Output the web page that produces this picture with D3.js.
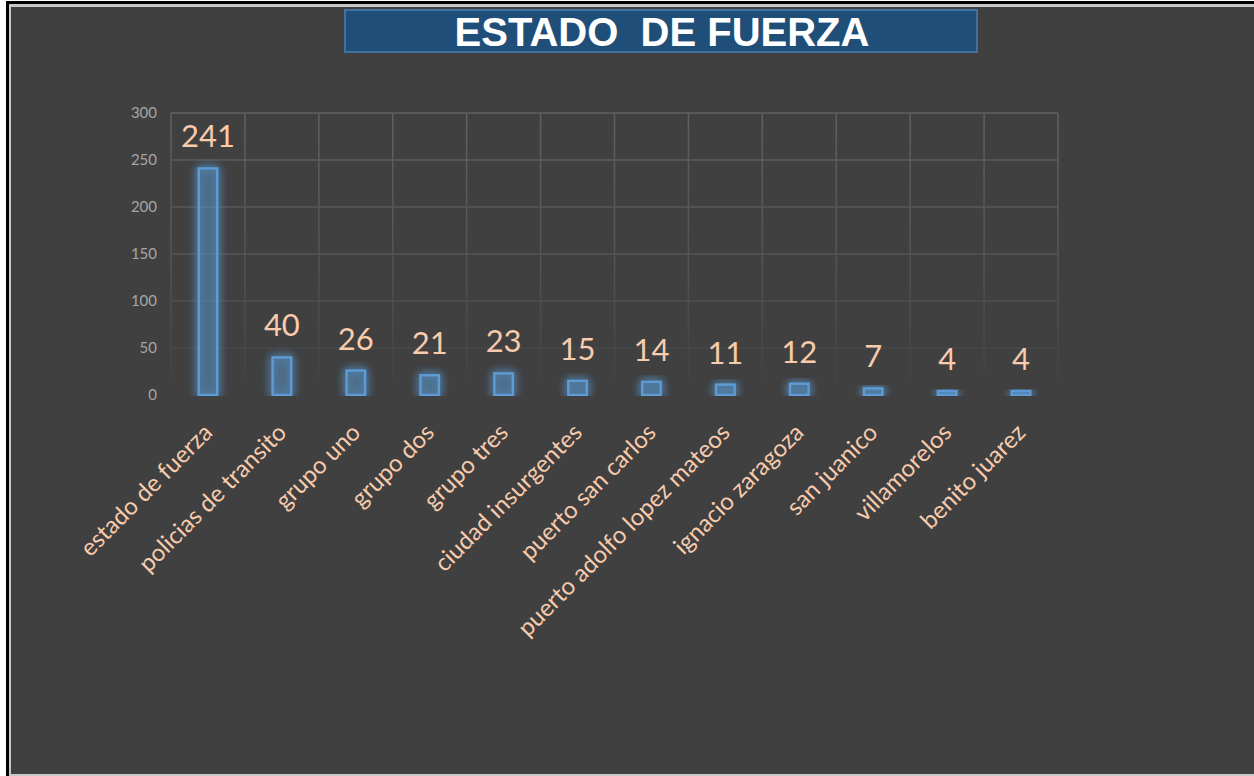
<!DOCTYPE html>
<html>
<head>
<meta charset="utf-8">
<script src="https://cdn.jsdelivr.net/npm/d3@7"></script>
<style>
  body { margin: 0; background: #fff; }
  svg { display: block; }
</style>
</head>
<body>
<svg id="chart" width="1254" height="776"></svg>
<script>
var categories = ["estado de fuerza", "policias de transito", "grupo uno", "grupo dos",
  "grupo tres", "ciudad insurgentes", "puerto san carlos", "puerto adolfo lopez mateos",
  "ignacio zaragoza", "san juanico", "villamorelos", "benito juarez"];
var values = [241, 40, 26, 21, 23, 15, 14, 11, 12, 7, 4, 4];
var yTicks = [0, 50, 100, 150, 200, 250, 300];
var title = "ESTADO  DE FUERZA";

var svg = d3.select("svg#chart"),
    width = +svg.attr("width"),
    height = +svg.attr("height");

var peach = "#F8CBAD",
    barBlue = "#5B9BD5";

var x = d3.scaleBand().domain(categories).range([171, 1058]);
var y = d3.scaleLinear().domain([0, 300]).range([395, 113]);

var defs = svg.append("defs");

var glow = defs.append("filter").attr("id", "glow")
    .attr("x", "-150%").attr("y", "-50%").attr("width", "400%").attr("height", "200%");
glow.append("feGaussianBlur").attr("in", "SourceAlpha").attr("stdDeviation", 5).attr("result", "blur");
glow.append("feFlood").attr("flood-color", barBlue).attr("flood-opacity", 0.9);
glow.append("feComposite").attr("in2", "blur").attr("operator", "in").attr("result", "halo");
var merge = glow.append("feMerge");
merge.append("feMergeNode").attr("in", "halo");
merge.append("feMergeNode").attr("in", "halo");
merge.append("feMergeNode").attr("in", "SourceGraphic");

// grid fades out toward the baseline
var fade = defs.append("linearGradient").attr("id", "gridFade")
    .attr("gradientUnits", "userSpaceOnUse")
    .attr("x1", 0).attr("y1", y(300)).attr("x2", 0).attr("y2", y(0));
fade.append("stop").attr("offset", "0%").attr("stop-color", "#606060");
fade.append("stop").attr("offset", "55%").attr("stop-color", "#535353");
fade.append("stop").attr("offset", "100%").attr("stop-color", "#404040");

defs.append("clipPath").attr("id", "plotClip")
  .append("rect").attr("x", 0).attr("y", 0).attr("width", width).attr("height", y(0) + 1);

// frame
svg.append("rect").attr("x", 0).attr("y", 0).attr("width", width).attr("height", height).attr("fill", "#fff");
svg.append("rect").attr("x", 6).attr("y", 1).attr("width", width - 6).attr("height", height - 1).attr("fill", "#000");
svg.append("rect").attr("x", 9).attr("y", 4).attr("width", width - 9).attr("height", height - 4).attr("fill", "#c8c8c8");
svg.append("rect").attr("x", 11).attr("y", 7).attr("width", width - 11).attr("height", height - 9).attr("fill", "#404040");

// title
svg.append("rect")
    .attr("x", 345).attr("y", 10).attr("width", 632).attr("height", 42)
    .attr("fill", "#1F4E79").attr("stroke", "#41719C").attr("stroke-width", 2);
svg.append("text")
    .attr("x", 662).attr("y", 46)
    .attr("text-anchor", "middle")
    .style("white-space", "pre")
    .attr("font-family", "'Liberation Sans', Arial, sans-serif")
    .attr("font-weight", "bold")
    .attr("font-size", 40)
    .attr("fill", "#fff")
    .text(title);

// gridlines
var grid = svg.append("g").attr("stroke", "url(#gridFade)").attr("stroke-width", 1.5);
grid.selectAll(".h").data(yTicks).enter().append("line")
    .attr("x1", x.range()[0]).attr("x2", x.range()[1])
    .attr("y1", function(d) { return y(d); })
    .attr("y2", function(d) { return y(d) + 0.01; });
var edges = categories.map(function(c) { return x(c); }).concat([x.range()[1]]);
grid.selectAll(".v").data(edges).enter().append("line")
    .attr("x1", function(d) { return d; })
    .attr("x2", function(d) { return d + 0.01; })
    .attr("y1", y(300)).attr("y2", y(0));

// y tick labels
svg.append("g").selectAll("text").data(yTicks).enter().append("text")
    .attr("x", 157)
    .attr("y", function(d) { return y(d); })
    .attr("dy", "0.35em")
    .attr("text-anchor", "end")
    .attr("font-family", "Lato, 'Open Sans', sans-serif")
    .attr("font-size", 15)
    .attr("fill", "#A6A6A6")
    .text(function(d) { return d; });

// bars
var barW = x.bandwidth() * 0.25;
svg.append("g").attr("clip-path", "url(#plotClip)")
  .selectAll("rect").data(values).enter().append("rect")
    .attr("x", function(d, i) { return x(categories[i]) + x.bandwidth() / 2 - barW / 2; })
    .attr("y", function(d) { return y(d); })
    .attr("width", barW)
    .attr("height", function(d) { return y(0) - y(d); })
    .attr("fill", barBlue).attr("fill-opacity", 0.18)
    .attr("stroke", barBlue).attr("stroke-width", 2.5)
    .attr("filter", "url(#glow)");

// data labels
svg.append("g").selectAll("text").data(values).enter().append("text")
    .attr("x", function(d, i) { return x(categories[i]) + x.bandwidth() / 2; })
    .attr("y", function(d) { return y(d) - 21; })
    .attr("text-anchor", "middle")
    .attr("font-family", "Lato, 'Open Sans', sans-serif")
    .attr("font-size", 31)
    .attr("fill", peach)
    .text(function(d) { return d; });

// category labels, rotated
svg.append("g").selectAll("text").data(categories).enter().append("text")
    .attr("transform", function(d) {
      return "translate(" + (x(d) + x.bandwidth() / 2 + 6) + ",434) rotate(-45)";
    })
    .attr("text-anchor", "end")
    .attr("font-family", "Lato, 'Open Sans', sans-serif")
    .attr("font-size", 24)
    .attr("fill", peach)
    .text(function(d) { return d; });
</script>
</body>
</html>
